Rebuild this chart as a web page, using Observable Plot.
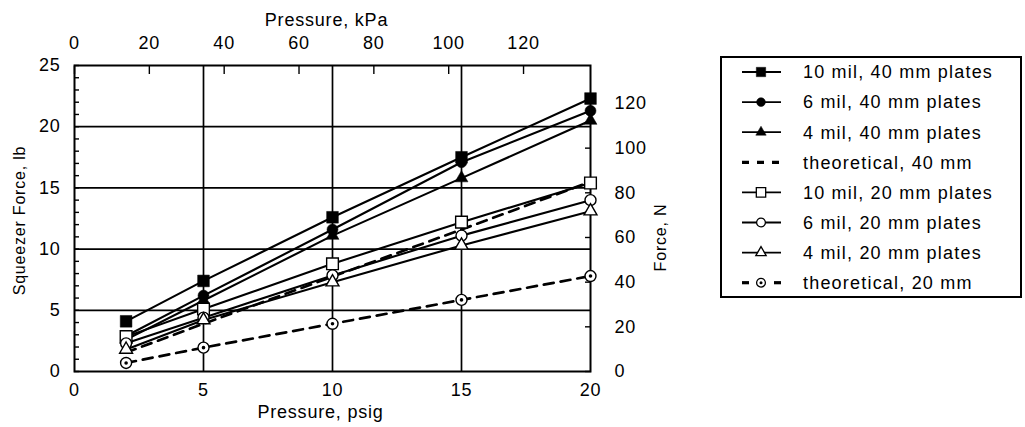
<!DOCTYPE html>
<html><head><meta charset="utf-8">
<script src="https://cdn.jsdelivr.net/npm/d3@7"></script>
<script src="https://cdn.jsdelivr.net/npm/@observablehq/plot@0.6"></script>
<style>
html,body{margin:0;padding:0;background:#fff;}
#wrap{position:relative;width:1025px;height:427px;overflow:hidden;}
#wrap svg.legend{position:absolute;left:0;top:0;}
</style></head><body><div id="wrap"></div>
<script>
// ---- data ----
const pressurePsig = [2, 5, 10, 15, 20];
const mil10_40mm = [4.1, 7.4, 12.6, 17.5, 22.3];
const mil6_40mm  = [2.9, 6.2, 11.6, 17.1, 21.3];
const mil4_40mm  = [2.6, 5.8, 11.1, 15.8, 20.5];
const theory40mm = [1.55, 3.9, 7.75, 11.6, 15.5];
const mil10_20mm = [2.85, 5.1, 8.8, 12.2, 15.4];
const mil6_20mm  = [2.3, 4.4, 7.85, 11.1, 14.0];
const mil4_20mm  = [1.8, 4.2, 7.3, 10.3, 13.1];
const theory20mm = [0.7, 1.95, 3.9, 5.85, 7.8];
const seriesNames = ["10 mil, 40 mm plates", "6 mil, 40 mm plates", "4 mil, 40 mm plates", "theoretical, 40 mm",
  "10 mil, 20 mm plates", "6 mil, 20 mm plates", "4 mil, 20 mm plates", "theoretical, 20 mm"];
const seriesValues = [mil10_40mm, mil6_40mm, mil4_40mm, theory40mm, mil10_20mm, mil6_20mm, mil4_20mm, theory20mm];
const psigTicks = [0, 5, 10, 15, 20];
const lbTicks = [0, 5, 10, 15, 20, 25];
const kpaTicks = [0, 20, 40, 60, 80, 100, 120];
const newtonTicks = [0, 20, 40, 60, 80, 100, 120];
const KPA_PER_PSI = 6.89476;
const NEWTON_AT_25LB = 137; // right axis reading at the top of the frame, as drawn
const titleLeft = "Squeezer Force, lb";
const titleRight = "Force, N";
const titleTop = "Pressure, kPa";
const titleBottom = "Pressure, psig";

// ---- styles (separate from data) ----
const styles = [
  {symbol: "square", fill: "#000", r: 6.6},
  {symbol: "circle", fill: "#000", r: 5.5},
  {symbol: "triangle", fill: "#000", r: 4.8},
  {symbol: null, dash: "10,7"},
  {symbol: "square", fill: "#fff", r: 6.6},
  {symbol: "circle", fill: "#fff", r: 5.5},
  {symbol: "triangle", fill: "#fff", r: 4.8},
  {symbol: "circle", fill: "#fff", r: 5.5, dot: true, dash: "10,7"}
];

const rows = [];
seriesNames.forEach((name, s) => seriesValues[s].forEach((v, i) => rows.push({series: name, p: pressurePsig[i], f: v})));

const FONT = "'Liberation Sans', Arial, Helvetica, sans-serif";
const lineMarks = [], dotMarks = [];
seriesNames.forEach((name, s) => {
  const st = styles[s];
  const data = rows.filter(d => d.series === name);
  lineMarks.push(Plot.line(data, {x: "p", y: "f", stroke: "#000", strokeWidth: st.dash ? 2.7 : 2.1, strokeDasharray: st.dash || null}));
  if (st.symbol) {
    dotMarks.push(Plot.dot(data, {x: "p", y: "f", symbol: st.symbol, r: st.r, fill: st.fill, stroke: "#000", strokeWidth: st.fill === "#fff" ? 1.4 : 0.5}));
    if (st.dot) dotMarks.push(Plot.dot(data, {x: "p", y: "f", r: 1.8, fill: "#000", stroke: null}));
  }
});

const chart = Plot.plot({
  width: 1025, height: 427,
  marginLeft: 74, marginRight: 435, marginTop: 65, marginBottom: 56,
  style: {fontFamily: FONT, fontSize: "18px", letterSpacing: "0.8px", color: "#000", background: "#fff"},
  x: {domain: [0, 20]},
  y: {domain: [0, 25]},
  marks: [
    Plot.gridX(psigTicks.slice(1, -1), {stroke: "#000", strokeOpacity: 1, strokeWidth: 1.7}),
    Plot.gridY(lbTicks.slice(1, -1), {stroke: "#000", strokeOpacity: 1, strokeWidth: 1.7}),
    Plot.axisY(d3.range(0, 26), {anchor: "left", tickSize: -5, tickPadding: 19, strokeWidth: 1.4, fontSize: 18,
      tickFormat: d => d % 5 === 0 ? String(d) : "", label: null}),
    Plot.axisY(newtonTicks.map(n => n * 25 / NEWTON_AT_25LB), {anchor: "right", tickSize: -6, tickPadding: 30, strokeWidth: 1.4, fontSize: 18,
      tickFormat: d => String(Math.round(d * NEWTON_AT_25LB / 25)), label: null}),
    Plot.axisX(kpaTicks.map(k => k / KPA_PER_PSI), {anchor: "top", tickSize: -8, tickPadding: 25, strokeWidth: 1.4, fontSize: 18,
      tickFormat: d => String(Math.round(d * KPA_PER_PSI)), label: null}),
    Plot.axisX(psigTicks, {anchor: "bottom", tickSize: 0, tickPadding: 12, fontSize: 18, label: null}),
    Plot.text([titleTop], {text: d => d, frameAnchor: "top", lineAnchor: "middle", textAnchor: "middle", dx: -6, dy: -45, fontSize: 18}),
    Plot.text([titleBottom], {text: d => d, frameAnchor: "bottom", lineAnchor: "middle", textAnchor: "middle", dx: -12, dy: 41, fontSize: 18}),
    Plot.text([titleLeft], {text: d => d, frameAnchor: "left", lineAnchor: "middle", textAnchor: "middle", dx: -55, dy: 2, rotate: -90, fontSize: 16}),
    Plot.text([titleRight], {text: d => d, frameAnchor: "right", lineAnchor: "middle", textAnchor: "middle", dx: 70, dy: 19, rotate: -90, fontSize: 16}),
    ...lineMarks,
    Plot.frame({stroke: "#000", strokeWidth: 2}),
    ...dotMarks
  ]
});
const wrap = document.getElementById("wrap");
wrap.appendChild(chart);

// ---- legend ----
const lg = d3.select(wrap).append("svg").attr("class", "legend").attr("width", 1025).attr("height", 427)
  .style("font-family", FONT);
const box = {x: 721, y: 57, w: 300, h: 240};
lg.append("rect").attr("x", box.x).attr("y", box.y).attr("width", box.w).attr("height", box.h)
  .attr("fill", "#fff").attr("stroke", "#000").attr("stroke-width", 2);
const rowY = i => 72 + i * 30.1;
const sx0 = 742, sx1 = 781, sxm = 761;
seriesNames.forEach((name, i) => {
  const st = styles[i];
  const y = rowY(i);
  const g = lg.append("g");
  if (!st.symbol) {
    g.append("line").attr("x1", sx0).attr("x2", sx1 + 2).attr("y1", y).attr("y2", y)
      .attr("stroke", "#000").attr("stroke-width", 3.2).attr("stroke-dasharray", "7,8");
  } else if (st.dash) {
    g.append("line").attr("x1", sx0).attr("x2", sx0 + 7).attr("y1", y).attr("y2", y).attr("stroke", "#000").attr("stroke-width", 3.2);
    g.append("line").attr("x1", sx1 - 7).attr("x2", sx1).attr("y1", y).attr("y2", y).attr("stroke", "#000").attr("stroke-width", 3.2);
  } else {
    g.append("line").attr("x1", sx0).attr("x2", sx1).attr("y1", y).attr("y2", y).attr("stroke", "#000").attr("stroke-width", 1.8);
  }
  if (st.symbol) {
    const sym = {square: d3.symbolSquare, circle: d3.symbolCircle, triangle: d3.symbolTriangle}[st.symbol];
    const rr = st.r * 0.8;
    g.append("path").attr("transform", `translate(${sxm},${y})`)
      .attr("d", d3.symbol(sym, Math.PI * rr * rr)())
      .attr("fill", st.fill).attr("stroke", "#000").attr("stroke-width", st.fill === "#fff" ? 1.3 : 0.5);
    if (st.dot) g.append("circle").attr("cx", sxm).attr("cy", y).attr("r", 1.5).attr("fill", "#000");
  }
  g.append("text").attr("x", 803).attr("y", y).attr("dy", "0.35em")
    .attr("font-size", 18).attr("letter-spacing", "1.2px").attr("fill", "#000").text(name);
});
</script></body></html>
